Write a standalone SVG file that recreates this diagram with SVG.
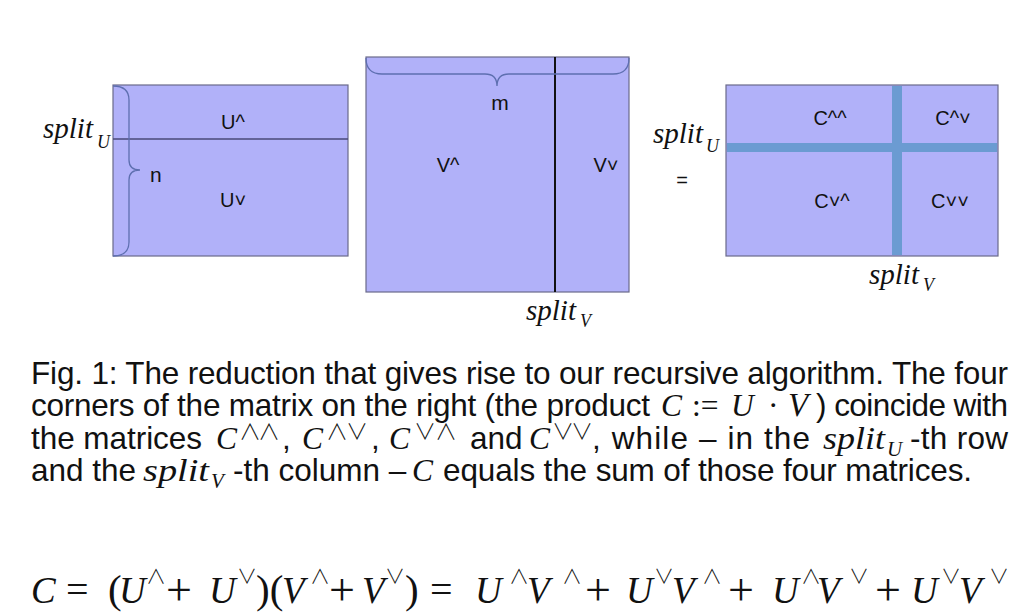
<svg xmlns="http://www.w3.org/2000/svg" width="1024" height="613" viewBox="0 0 1024 613">
<style>
.mat{fill:#b1b1f9;stroke:#6a6a8a;stroke-width:1.2}
.brace{fill:none;stroke:#5e6fb0;stroke-width:1.3}
.lbl{font-family:"Liberation Sans","DejaVu Sans",sans-serif;font-size:20px;fill:#111;text-anchor:middle}
.big{font-family:"Liberation Sans",sans-serif;font-size:21px;fill:#111}
.sp{font-family:"Liberation Serif","DejaVu Serif",serif;font-style:italic;font-size:29px;fill:#111}
.sps{font-family:"Liberation Serif","DejaVu Serif",serif;font-style:italic;font-size:18px;fill:#111}
.cap{font-family:"Liberation Sans",Arial,sans-serif;font-size:31.5px;fill:#111}
.mi{font-family:"Liberation Serif","DejaVu Serif",serif;font-style:italic}
.mr{font-family:"Liberation Serif","DejaVu Serif",serif;font-style:normal}
.op{font-family:"Noto Sans CJK JP","Noto Sans CJK SC","DejaVu Sans",sans-serif;font-style:normal;font-weight:300;fill:#111}
.eq{font-family:"Liberation Serif","DejaVu Serif",serif;font-size:37px;fill:#111}
.band{fill:#6b9bd2}
</style>

<g id="matrix-U">
<rect class="mat" x="113" y="85" width="235" height="171"/>
<line x1="113" y1="139" x2="348" y2="139" stroke="#4a4a78" stroke-width="1.3"/>
<path class="brace" d="M113,86 Q129,86 129,100 L129,160 Q129,170 140,170 Q129,170 129,180 L129,242 Q129,256 113,256"/>
<text class="lbl" x="233" y="129">U^</text>
<text class="lbl" x="233" y="207">U˅</text>
<text class="big" x="150" y="182">n</text>
</g>

<g id="matrix-V">
<rect class="mat" x="366" y="57" width="263" height="235"/>
<line x1="555" y1="57" x2="555" y2="292" stroke="#111" stroke-width="2"/>
<path class="brace" d="M366,58 Q366,74 382,74 L485,74 Q497,74 497,86 Q497,74 509,74 L613,74 Q629,74 629,58"/>
<text class="big" x="500" y="110" text-anchor="middle">m</text>
<text class="lbl" x="448" y="172">V^</text>
<text class="lbl" x="606" y="172">V˅</text>
</g>

<g id="matrix-C">
<rect class="mat" x="726" y="85" width="272" height="171"/>
<rect class="band" x="727" y="143" width="270" height="9"/>
<rect class="band" x="892" y="86" width="10" height="169"/>
<text class="lbl" x="830" y="125">C^^</text>
<text class="lbl" x="953" y="125">C^˅</text>
<text class="lbl" x="832" y="208">C˅^</text>
<text class="lbl" x="950" y="208">C˅˅</text>
</g>

<g id="split-labels">
<text class="sp" x="43" y="138">split</text><text class="sps" x="97" y="148">U</text>
<text class="sp" x="653" y="143">split</text><text class="sps" x="706" y="152">U</text>
<text class="lbl" x="682" y="187">=</text>
<text class="sp" x="526" y="320">split</text><text class="sps" x="580" y="327">V</text>
<text class="sp" x="869" y="284">split</text><text class="sps" x="923" y="291">V</text>
</g>

<g id="connectors"/>

<g id="caption" class="cap">
<text x="31" y="384" textLength="977" lengthAdjust="spacing">Fig. 1: The reduction that gives rise to our recursive algorithm. The four</text>
<text y="416"><tspan x="31" textLength="619" lengthAdjust="spacing">corners of the matrix on the right (the product</tspan><tspan class="mi" x="661">C</tspan><tspan class="mr" x="692">:=</tspan><tspan class="mi" x="731">U</tspan><tspan class="mr" x="768">·</tspan><tspan class="mi" x="788" font-size="33">V</tspan><tspan x="816" textLength="192" lengthAdjust="spacing">) coincide with</tspan></text>
<text y="449"><tspan x="31" textLength="171" lengthAdjust="spacing">the matrices</tspan><tspan class="mi" x="216">C</tspan><tspan x="282">,</tspan><tspan class="mi" x="302">C</tspan><tspan x="371">,</tspan><tspan class="mi" x="389">C</tspan><tspan x="470">and</tspan><tspan class="mi" x="529">C</tspan><tspan x="592" textLength="218" lengthAdjust="spacing">, while – in the</tspan><tspan class="mi" x="823" textLength="62" lengthAdjust="spacingAndGlyphs">split</tspan><tspan x="910" textLength="98" lengthAdjust="spacing">-th row</tspan></text>
<g class="op" font-size="22">
<text x="239" y="439">∧</text><text x="258" y="439">∧</text>
<text x="326" y="439">∧</text><text x="346" y="439">∨</text>
<text x="414" y="439">∨</text><text x="435" y="439">∧</text>
<text x="552" y="439">∨</text><text x="571" y="439">∨</text>
</g>
<text class="mi" x="887" y="456" font-size="21">U</text>
<text y="481"><tspan x="31">and the</tspan><tspan class="mi" x="143" textLength="66" lengthAdjust="spacingAndGlyphs">split</tspan><tspan x="233">-th column –</tspan><tspan class="mi" x="412">C</tspan><tspan x="443" textLength="529" lengthAdjust="spacing">equals the sum of those four matrices.</tspan></text>
<text class="mi" x="211" y="488" font-size="21">V</text>
</g>

<g id="equation" class="eq">
<text y="603"><tspan class="mi" x="31">C</tspan><tspan x="66" font-size="40">=</tspan><tspan x="108" font-size="41">(</tspan><tspan class="mi" x="119">U</tspan><tspan x="166" font-size="46" dy="2">+</tspan><tspan class="mi" x="209" dy="-2">U</tspan><tspan x="256" font-size="41">)(</tspan><tspan class="mi" x="282">V</tspan><tspan x="329" font-size="46" dy="2">+</tspan><tspan class="mi" x="362" dy="-2">V</tspan><tspan x="405" font-size="41">)</tspan><tspan x="430" font-size="40">=</tspan><tspan class="mi" x="475">U</tspan><tspan class="mi" x="527">V</tspan><tspan x="585" font-size="46" dy="2">+</tspan><tspan class="mi" x="626" dy="-2">U</tspan><tspan class="mi" x="672">V</tspan><tspan x="728" font-size="46" dy="2">+</tspan><tspan class="mi" x="772" dy="-2">U</tspan><tspan class="mi" x="817">V</tspan><tspan x="875" font-size="46" dy="2">+</tspan><tspan class="mi" x="911" dy="-2">U</tspan><tspan class="mi" x="959">V</tspan></text>
<g class="op" font-size="20">
<text x="146" y="584">∧</text><text x="237" y="584">∨</text>
<text x="310" y="584">∧</text><text x="385" y="584">∨</text>
<text x="509" y="584">∧</text><text x="562" y="584">∧</text>
<text x="654" y="584">∨</text><text x="702" y="584">∧</text>
<text x="801" y="584">∧</text><text x="849" y="584">∨</text>
<text x="941" y="584">∨</text><text x="989" y="584">∨</text>
</g>
</g>
</svg>
